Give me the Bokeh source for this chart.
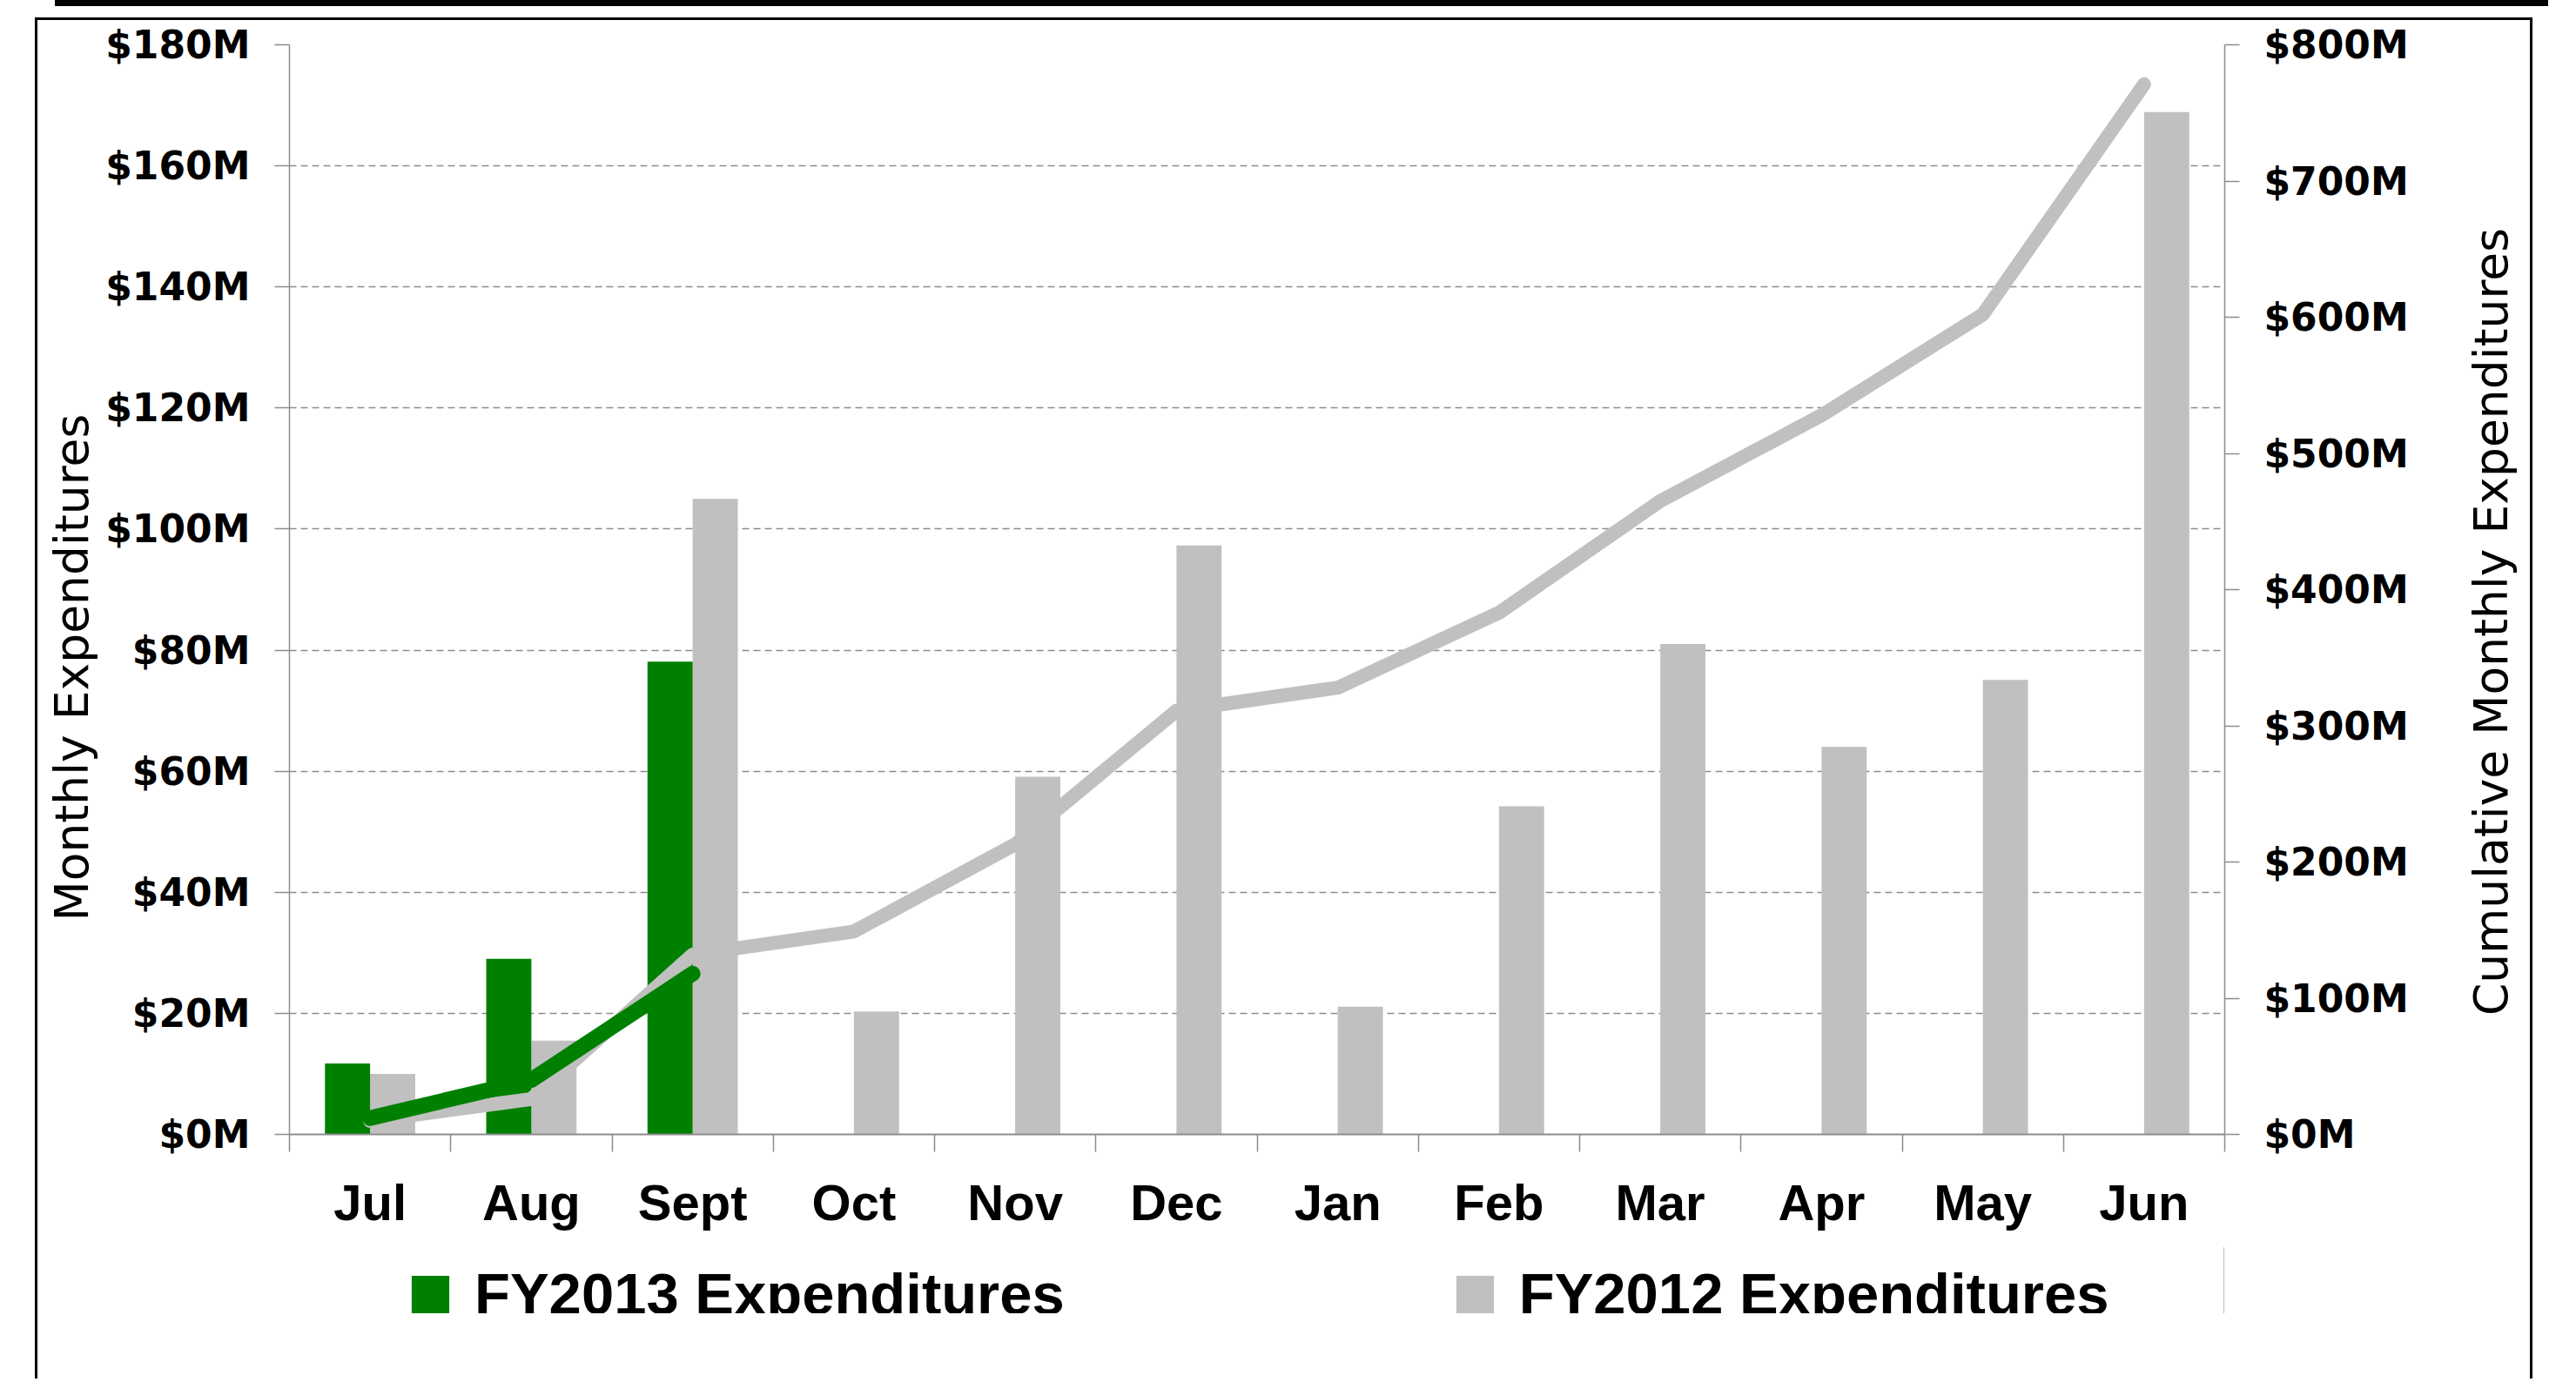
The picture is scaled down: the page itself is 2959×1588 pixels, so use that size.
import math
from bokeh.plotting import figure
from bokeh.models import (Range1d, LinearAxis, FixedTicker, Label, Title,
                          PrintfTickFormatter, Legend, LegendItem, Div, Spacer,
                          ColumnDataSource, Grid)
from bokeh.layouts import column, row
from bokeh.transform import dodge
from bokeh.embed import file_html
from bokeh.resources import INLINE

# ---------------- data (values in $M) ----------------
months = ["Jul", "Aug", "Sept", "Oct", "Nov", "Dec", "Jan", "Feb", "Mar", "Apr", "May", "Jun"]
fy2013_monthly = [11.7, 29.0, 78.1]
fy2012_monthly = [10.0, 15.5, 105.0, 20.3, 59.1, 97.3, 21.1, 54.2, 81.0, 64.0, 75.1, 168.9]
fy2013_cumulative = [12, 40, 118]
fy2012_cumulative = [10, 26, 132, 149, 213, 311, 328, 383, 465, 528, 602, 771]
left_ticks = [0, 20, 40, 60, 80, 100, 120, 140, 160, 180]
right_ticks = [0, 100, 200, 300, 400, 500, 600, 700, 800]
legend_labels = ["FY2013 Expenditures", "FY2012 Expenditures"]
left_title = "Monthly Expenditures"
right_title = "Cumulative Monthly Expenditures"

GREEN = "#008000"
GREY = "#c0c0c0"
AXIS = "#8c8c8c"
TITLE_FONT = dict(text_font="DejaVu Sans", text_font_style="normal",
                  text_font_size="53.5px", text_color="black")

n = len(months)
centers = [i + 0.5 for i in range(n)]   # category slots on a numeric scale
edges = list(range(n + 1))

P_W = 288 + 2223 + 240     # main figure width
P_H = 28 + 1252 + 130      # main figure height

p = figure(frame_width=2223, frame_height=1252,
           x_range=Range1d(0, n),
           y_range=Range1d(0, 180),
           extra_y_ranges={"cum": Range1d(0, 800)},
           x_axis_location=None, y_axis_location=None,
           output_backend="svg", toolbar_location=None,
           min_border_left=288, min_border_right=240, min_border_top=28, min_border_bottom=130,
           background_fill_color="white", border_fill_color="white",
           outline_line_color=None)
p.center = []   # drop default grids

# horizontal dashed gridlines
p.add_layout(Grid(dimension=1, ticker=FixedTicker(ticks=left_ticks),
                  grid_line_color=AXIS, grid_line_width=1.5, grid_line_dash="8 5"))

def style_y(ax):
    ax.axis_line_color = AXIS
    ax.axis_line_width = 1.5
    ax.major_tick_line_color = AXIS
    ax.major_tick_line_width = 1.5
    ax.major_tick_out = 17
    ax.major_tick_in = 0
    ax.minor_tick_out = 0
    ax.minor_tick_in = 0
    ax.major_label_standoff = 28
    ax.major_label_text_font = "DejaVu Sans"
    ax.major_label_text_font_style = "bold"
    ax.major_label_text_font_size = "44px"
    ax.major_label_text_color = "black"

yl = LinearAxis(ticker=FixedTicker(ticks=left_ticks),
                formatter=PrintfTickFormatter(format="$%dM"))
style_y(yl)
p.add_layout(yl, "left")
p.add_layout(Title(text=left_title, align="left", offset=245, standoff=10, **TITLE_FONT), "left")

yr = LinearAxis(y_range_name="cum", ticker=FixedTicker(ticks=right_ticks),
                formatter=PrintfTickFormatter(format="$%dM"))
style_y(yr)
p.add_layout(yr, "right")

# x axis: boundary ticks (no labels)
xt = LinearAxis(ticker=FixedTicker(ticks=edges),
                major_label_overrides={e: "" for e in edges},
                major_label_text_font_size="0px", major_label_standoff=0,
                axis_line_color=AXIS, axis_line_width=2,
                major_tick_line_color=AXIS, major_tick_line_width=1.5,
                major_tick_out=20, major_tick_in=0, minor_tick_out=0, minor_tick_in=0)
p.add_layout(xt, "below")

# x axis: month labels at slot centres (no ticks, no line)
xl = LinearAxis(ticker=FixedTicker(ticks=centers),
                major_label_overrides={c: m for c, m in zip(centers, months)},
                major_tick_out=0, major_tick_in=0, minor_tick_out=0, minor_tick_in=0,
                axis_line_color=None, major_tick_line_color=None,
                major_label_standoff=25,
                major_label_text_font="Liberation Sans",
                major_label_text_font_style="bold",
                major_label_text_font_size="58px",
                major_label_text_color="black")
p.add_layout(xl, "below")

# bars
src12 = ColumnDataSource(dict(x=centers, value=fy2012_monthly))
src13 = ColumnDataSource(dict(x=centers[:len(fy2013_monthly)], value=fy2013_monthly))
p.vbar(x=dodge("x", 0.14), top="value", width=0.28,
       source=src12, fill_color=GREY, line_color=None)
p.vbar(x=dodge("x", -0.14), top="value", width=0.28,
       source=src13, fill_color=GREEN, line_color=None)

# cumulative lines
p.line(x=centers, y=fy2012_cumulative, y_range_name="cum", line_color=GREY, line_width=16,
       line_cap="round", line_join="round")
p.line(x=centers[:len(fy2013_cumulative)], y=fy2013_cumulative, y_range_name="cum",
       line_color=GREEN, line_width=18, line_cap="round", line_join="round")

# legend strip: its own small figure so the legend is cut at the strip's lower edge
lf = figure(width=P_W, height=76, x_range=Range1d(-2, -1), y_range=Range1d(0, 1),
            x_axis_location=None, y_axis_location=None,
            output_backend="svg", toolbar_location=None, min_border=0,
            background_fill_color=None, border_fill_color=None,
            outline_line_color=None)
lf.center = []
k13 = lf.vbar(x=dodge("x", -0.14), top="value", width=0.28, source=src13,
              fill_color=GREEN, line_color=None)
k12 = lf.vbar(x=dodge("x", 0.14), top="value", width=0.28, source=src12,
              fill_color=GREY, line_color=None)
legend = Legend(items=[LegendItem(label=legend_labels[0], renderers=[k13]),
                       LegendItem(label=legend_labels[1], renderers=[k12])],
                orientation="horizontal", location=(135, -16),
                border_line_color=None, background_fill_alpha=0,
                glyph_width=54, glyph_height=54, label_standoff=24, spacing=444,
                padding=0, margin=0,
                label_text_font="Liberation Sans", label_text_font_style="bold",
                label_text_font_size="67px", label_text_color="black")
lf.add_layout(legend, "center")

# right-hand title strip (reads bottom-to-top like the reference)
TF_W = 2862 - P_W
tf = figure(width=TF_W, height=P_H, x_range=Range1d(0, TF_W), y_range=Range1d(0, P_H),
            x_axis_location=None, y_axis_location=None,
            output_backend="svg", toolbar_location=None, min_border=0,
            background_fill_color=None, border_fill_color=None,
            outline_line_color=None)
tf.center = []
tf.add_layout(Label(x=66, y=P_H - (712 - 21), text=right_title, angle=math.pi / 2,
                    text_align="center", text_baseline="middle", **TITLE_FONT))

bar = Div(text="", width=2864, height=10, styles={"background-color": "black"})
inner = row(column(p, lf, Spacer(width=P_W, height=75)), tf)
box = column(inner, styles={"border": "3px solid black", "border-bottom": "none"})
layout = column(row(Spacer(width=58, height=10), bar,
                    styles={"margin-top": "-8px", "margin-bottom": "8px"}),
                row(Spacer(width=40, height=10), box))

open("out.html", "w").write(file_html(layout, INLINE))
